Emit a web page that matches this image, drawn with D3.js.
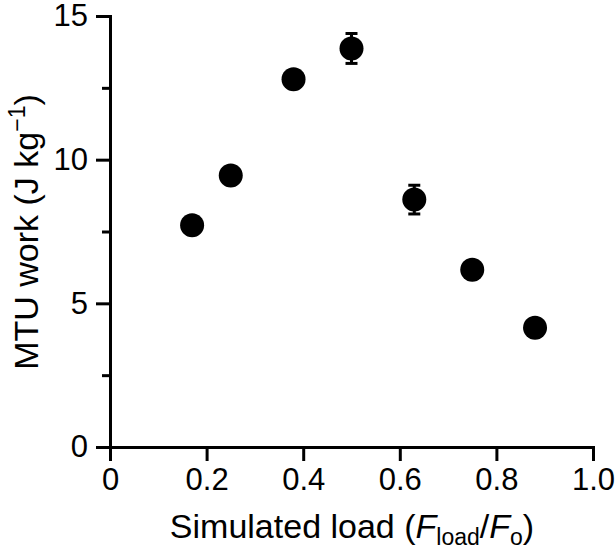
<!DOCTYPE html>
<html><head><meta charset="utf-8">
<script src="https://cdn.jsdelivr.net/npm/d3@7"></script>
<style>body{margin:0;background:#fff}svg{display:block}text{font-family:"Liberation Sans",Arial,sans-serif;fill:#000}</style>
</head><body>
<svg id="c" width="616" height="558"></svg>
<script>
const loads = [0.17, 0.25, 0.38, 0.50, 0.63, 0.75, 0.88];
const work = [7.72, 9.45, 12.8, 13.87, 8.61, 6.17, 4.15];
const errs = [0.3, 0.3, 0.3, 0.52, 0.5, 0.3, 0.3];
const xTicks = [0, 0.2, 0.4, 0.6, 0.8, 1.0];
const xTickLabels = ["0", "0.2", "0.4", "0.6", "0.8", "1.0"];
const yTicks = [0, 5, 10, 15];
const yMinorTicks = [2.5, 7.5, 12.5];

const svg = d3.select("#c");
const x = d3.scaleLinear().domain([0, 1]).range([110, 593]);
const y = d3.scaleLinear().domain([0, 15]).range([447, 16]);

const xAxis = svg.append("g").attr("transform", "translate(0,447)")
  .call(d3.axisBottom(x).tickValues(xTicks).tickFormat((d, i) => xTickLabels[i]).tickSize(14).tickSizeOuter(0).tickPadding(7));
const yAxis = svg.append("g").attr("transform", "translate(110,0)")
  .call(d3.axisLeft(y).tickValues(yTicks).tickFormat(d3.format("d")).tickSize(14).tickSizeOuter(0).tickPadding(8));
const yMinor = svg.append("g").attr("transform", "translate(110,0)")
  .call(d3.axisLeft(y).tickValues(yMinorTicks).tickFormat("").tickSize(8).tickSizeOuter(0));
yMinor.select(".domain").remove();

svg.selectAll(".domain").attr("stroke", "#000").attr("stroke-width", 3);
svg.selectAll(".tick line").attr("stroke", "#000").attr("stroke-width", 3);
svg.selectAll(".tick text").attr("font-size", 31).attr("font-family", '"Liberation Sans",Arial,sans-serif').attr("fill", "#000");
xAxis.selectAll(".tick text").attr("dy", "0.71em");
xAxis.select(".domain").attr("stroke-linecap", "square");
yAxis.select(".domain").attr("stroke-linecap", "square");

const pts = loads.map((l, i) => ({l, w: work[i], e: errs[i]}));
const eb = svg.append("g").attr("stroke", "#000").attr("stroke-width", 3);
pts.forEach(p => {
  eb.append("line").attr("x1", x(p.l)).attr("x2", x(p.l)).attr("y1", y(p.w - p.e)).attr("y2", y(p.w + p.e));
  [p.w - p.e, p.w + p.e].forEach(v => eb.append("line").attr("x1", x(p.l) - 6).attr("x2", x(p.l) + 6).attr("y1", y(v)).attr("y2", y(v)));
});
svg.append("g").selectAll("circle").data(pts).join("circle")
  .attr("cx", d => x(d.l)).attr("cy", d => y(d.w)).attr("r", 12).attr("fill", "#000");

const xt = svg.append("text").attr("x", 352).attr("y", 538).attr("text-anchor", "middle").attr("font-size", 34);
xt.append("tspan").text("Simulated load (");
xt.append("tspan").attr("font-style", "italic").text("F");
xt.append("tspan").attr("font-size", 23).attr("dy", 7).text("load");
xt.append("tspan").attr("dy", -7).text("/");
xt.append("tspan").attr("font-style", "italic").text("F");
xt.append("tspan").attr("font-size", 23).attr("dy", 7).text("o");
xt.append("tspan").attr("dy", -7).text(")");

const yt = svg.append("text").attr("transform", "translate(38,232) rotate(-90)").attr("text-anchor", "middle").attr("font-size", 34);
yt.append("tspan").text("MTU work (J kg");
yt.append("tspan").attr("font-size", 23).attr("dy", -13).text("−1");
yt.append("tspan").attr("dy", 13).text(")");
</script>
</body></html>
